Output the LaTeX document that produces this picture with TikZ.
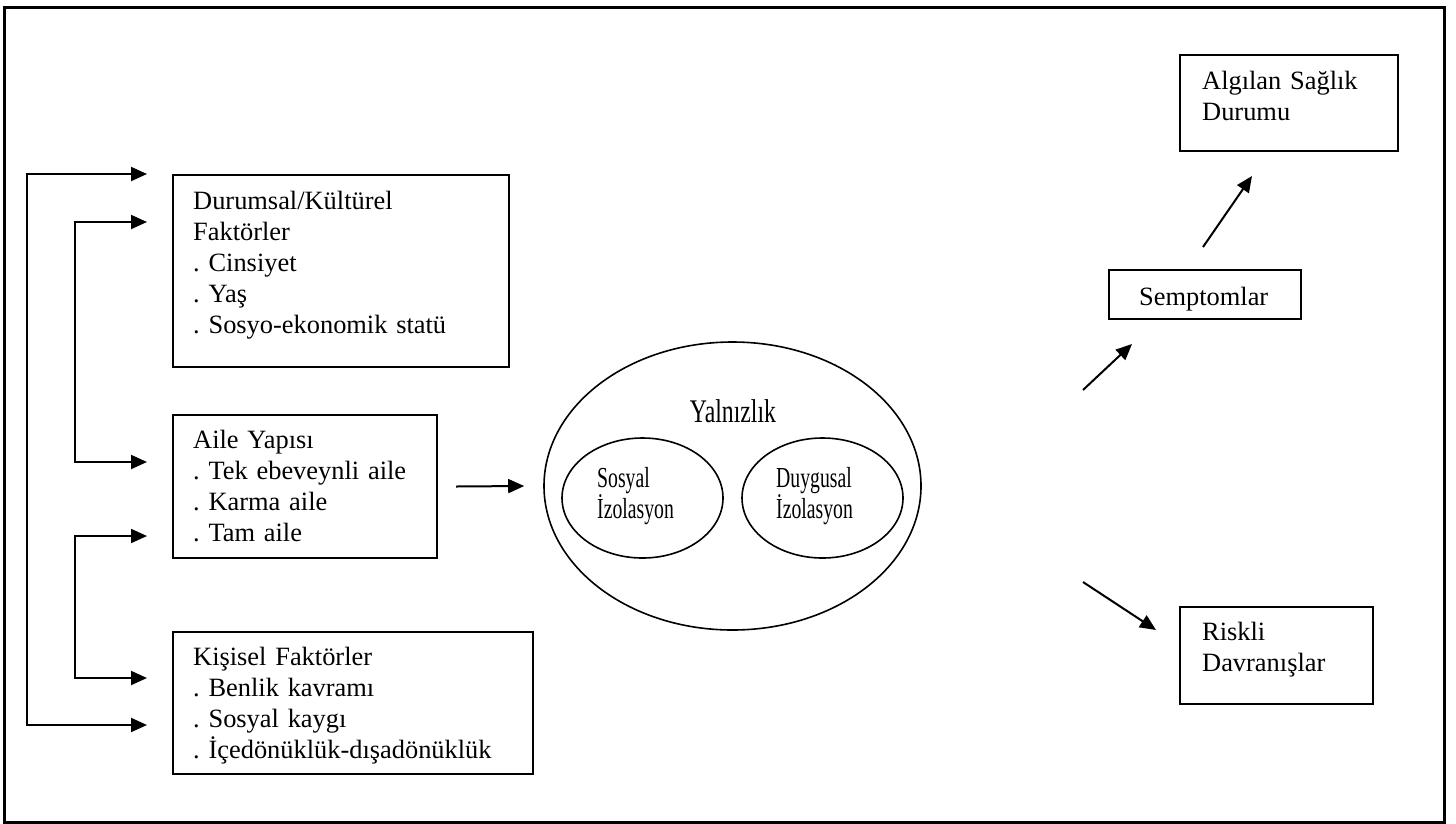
\documentclass[tikz,border=0pt]{standalone}
\usepackage{fontspec}
\setmainfont{Liberation Serif}
\usetikzlibrary{arrows.meta, shapes.geometric, positioning}

\newcommand{\dar}[2][0.68]{\scalebox{#1}[1]{#2}}
\frenchspacing

\begin{document}
\begin{tikzpicture}[x=1pt, y=-1pt,
      kutu/.style = {draw, line width=2pt, inner sep=0pt, anchor=north west},
      yazi/.style = {anchor=base west, align=left, inner sep=0pt, text width=340pt,
                     font=\fontsize{26.4}{31}\selectfont\frenchspacing},
     elips/.style = {draw, ellipse, line width=1.6pt, inner sep=0pt},
        ok/.style = {line width=2pt, -{Triangle[length=16pt, width=14pt]}},
      cift/.style = {line width=2pt,
                     {Triangle[length=16pt, width=14pt]}-{Triangle[length=16pt, width=14pt]}}]
  \useasboundingbox (0,0) rectangle (1456,823);
  \node[kutu, line width=2.5pt, minimum width=1440, minimum height=815] (cerceve) at (3,6) {};

  % sol taraf
  \node[kutu, minimum width=336, minimum height=192] (durumsal) at (172,174) {};
  \node[kutu, minimum width=264, minimum height=143] (aile) at (172,414) {};
  \node[kutu, minimum width=360, minimum height=142] (kisisel) at (172,631) {};
  \node[yazi] (durumsalY) at ([shift={(21,35)}]durumsal.north west)
    {Durumsal/Kültürel\\Faktörler\\. Cinsiyet\\. Yaş\\. Sosyo-ekonomik statü};
  \node[yazi] (aileY) at ([shift={(21,34)}]aile.north west)
    {Aile Yapısı\\. Tek ebeveynli aile\\. Karma aile\\. Tam aile};
  \node[yazi] (kisiselY) at ([shift={(21,34)}]kisisel.north west)
    {Kişisel Faktörler\\. Benlik kavramı\\. Sosyal kaygı\\. İçedönüklük-dışadönüklük};

  % orta
  \node[elips, minimum width=377, minimum height=288] (yalnizlik) at (732.5,486) {};
  \node[elips, minimum width=161, minimum height=120] (sosyal) at (642.5,498) {};
  \node[elips, minimum width=161, minimum height=120] (duygusal) at (822.5,498) {};
  \node[anchor=base, inner sep=0pt, font=\fontsize{33}{38}\selectfont] (baslik) at (733,422)
    {\dar[0.72]{Yalnızlık}};
  \node[yazi, font=\fontsize{29}{31}\selectfont] (sosyalY) at (597,487)
    {\dar{Sosyal}\\\dar{İzolasyon}};
  \node[yazi, font=\fontsize{29}{31}\selectfont] (duygusalY) at (776,487)
    {\dar{Duygusal}\\\dar{İzolasyon}};

  % sag taraf
  \node[kutu, minimum width=218, minimum height=96] (algilan) at (1179,54) {};
  \node[kutu, minimum width=192, minimum height=49] (semptom) at (1108,269) {};
  \node[kutu, minimum width=193, minimum height=97] (riskli) at (1179,606) {};
  \node[yazi] (algilanY) at ([shift={(23,35)}]algilan.north west) {Algılan Sağlık\\Durumu};
  \node[yazi] (semptomY) at ([shift={(31,36)}]semptom.north west) {Semptomlar};
  \node[yazi] (riskliY) at ([shift={(23,34)}]riskli.north west) {Riskli\\Davranışlar};

  % oklar
  \coordinate (u1) at ([xshift=-25pt]durumsal.north west);
  \coordinate (u2) at ([shift={(-25,48)}]durumsal.north west);
  \coordinate (u3) at ([shift={(-25,48)}]aile.north west);
  \coordinate (u4) at ([shift={(-25,-23)}]aile.south west);
  \coordinate (u5) at ([shift={(-25,47)}]kisisel.north west);
  \coordinate (u6) at ([shift={(-25,94)}]kisisel.north west);
  \draw[cift] (u1) -- ++(-120,0) |- (u6);
  \draw[cift] (u2) -- ++(-72,0) |- (u3);
  \draw[cift] (u4) -- ++(-72,0) |- (u5);

  \draw[ok] ([xshift=18pt]aile.east) -- ([xshift=-19pt]yalnizlik.west);

  \coordinate (y1) at (1083,390);
  \coordinate (y2) at (1083,582);
  \coordinate (s1) at ([shift={(24,24)}]semptom.south west);
  \coordinate (s2) at ([shift={(95,-22)}]semptom.north west);
  \coordinate (a1) at ([shift={(73,24)}]algilan.south west);
  \coordinate (r1) at ([shift={(-23,24)}]riskli.north west);
  \draw[ok] (y1) -- (s1);
  \draw[ok] (s2) -- (a1);
  \draw[ok] (y2) -- (r1);
\end{tikzpicture}
\end{document}
